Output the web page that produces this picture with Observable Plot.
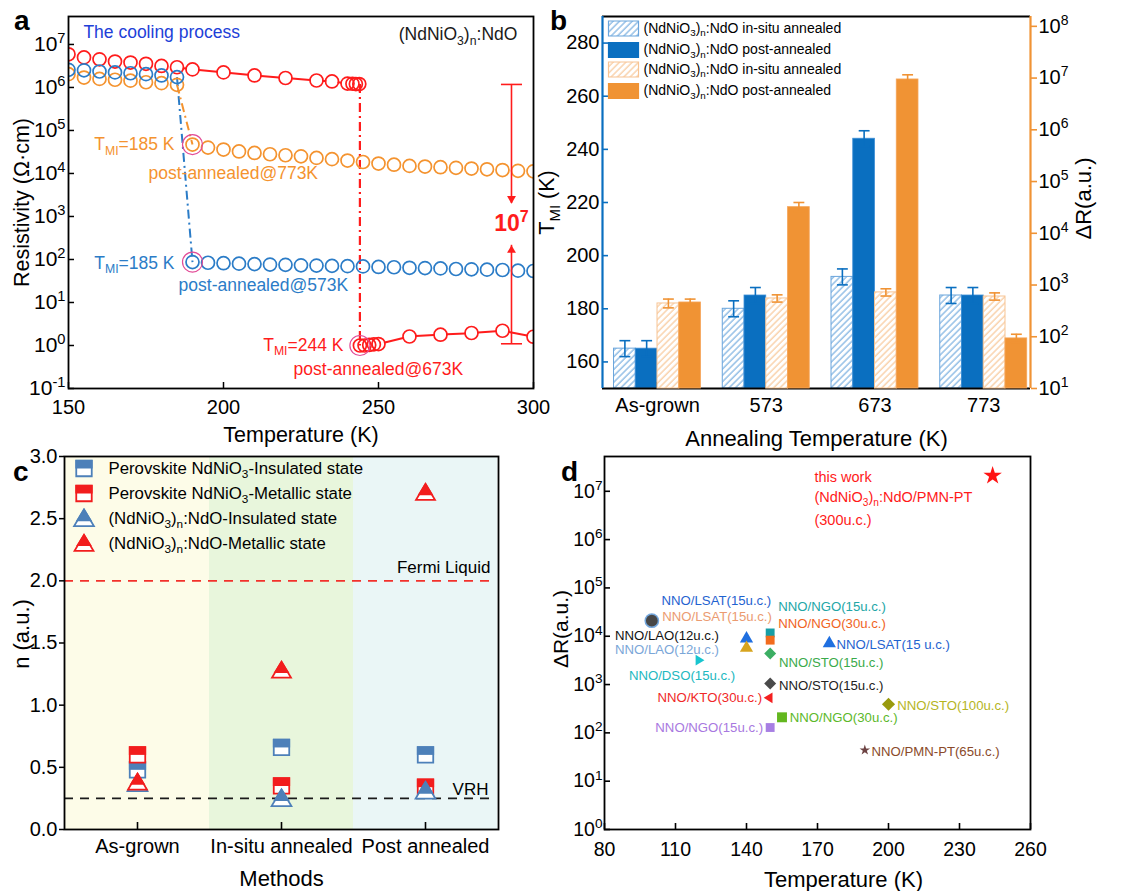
<!DOCTYPE html>
<html>
<head>
<meta charset="utf-8">
<title>NdNiO3 figure</title>
<script src="https://cdn.jsdelivr.net/npm/d3@7"></script>
<script src="https://cdn.jsdelivr.net/npm/@observablehq/plot@0.6"></script>
<style>
html,body{margin:0;padding:0;background:#fff;}
#fig{position:relative;width:1131px;height:891px;overflow:hidden;background:#fff;font-family:"Liberation Sans",Arial,sans-serif;}
#fig svg{position:absolute;}
</style>
</head>
<body>
<svg width="0" height="0" style="position:absolute;left:0;top:0">
  <defs>
    <pattern id="hatchBlue" patternUnits="userSpaceOnUse" width="4.5" height="4.5" patternTransform="rotate(45)">
      <rect width="4.5" height="4.5" fill="#ffffff"/>
      <line x1="1" y1="0" x2="1" y2="4.5" stroke="#79afe0" stroke-width="1.2"/>
    </pattern>
    <pattern id="hatchOrange" patternUnits="userSpaceOnUse" width="4.5" height="4.5" patternTransform="rotate(45)">
      <rect width="4.5" height="4.5" fill="#ffffff"/>
      <line x1="1" y1="0" x2="1" y2="4.5" stroke="#f8c899" stroke-width="1.2"/>
    </pattern>
  </defs>
</svg>
<div id="fig"></div>
<script>
// ===================== DATA =====================
// ---- Panel a: resistivity vs temperature (cooling) ----
const aTempIns = [150, 155, 160, 165, 170, 175, 180, 185];
const aBlue573Ins = [2.57e6, 2.5e6, 2.35e6, 2.24e6, 2.14e6, 2.04e6, 1.9e6, 1.74e6];
const aOrange773Ins = [2.04e6, 1.7e6, 1.58e6, 1.51e6, 1.44e6, 1.32e6, 1.26e6, 1.15e6];
const aTempMet = [190, 195, 200, 205, 210, 215, 220, 225, 230, 235, 240, 245, 250, 255, 260, 265, 270, 275, 280, 285, 290, 295, 300];
const aBlue573Met = [87, 84, 82, 80, 78, 76, 75, 73, 72, 71, 70, 69, 67, 66, 64, 63, 62, 60, 59, 58, 57, 55, 54];
const aOrange773Met = [4.7e4, 4.0e4, 3.6e4, 3.25e4, 3.0e4, 2.8e4, 2.65e4, 2.5e4, 2.3e4, 2.15e4, 2.0e4, 1.85e4, 1.7e4, 1.6e4, 1.5e4, 1.45e4, 1.4e4, 1.35e4, 1.3e4, 1.25e4, 1.2e4, 1.15e4, 1.12e4];
const aRed673InsTemp = [150, 155, 160, 165, 170, 175, 180, 185, 190, 200, 210, 220, 230, 235, 240, 241.6, 242.7, 243.8];
const aRed673Ins = [5.9e6, 5.0e6, 4.5e6, 4.0e6, 3.8e6, 3.55e6, 3.16e6, 2.95e6, 2.63e6, 2.24e6, 1.9e6, 1.66e6, 1.45e6, 1.38e6, 1.23e6, 1.22e6, 1.2e6, 1.2e6];
const aRed673MetTemp = [244, 245.5, 247, 248.5, 250, 260, 270, 280, 290, 300];
const aRed673Met = [1.0, 1.0, 1.03, 1.06, 1.08, 1.62, 1.78, 1.95, 2.2, 1.6];
const aXTicks = [150, 200, 250, 300];
const aYTicks = [1e-1, 1, 1e1, 1e2, 1e3, 1e4, 1e5, 1e6, 1e7];

// ---- Panel b: T_MI and ΔR vs annealing temperature ----
const bCats = ["As-grown", "573", "673", "773"];
const bTmiInsitu = [165, 180, 192, 185];
const bTmiInsituErr = [3, 3, 3, 3];
const bTmiPost = [165, 185, 244, 185];
const bTmiPostErr = [3, 3, 3, 3];
const bDRInsitu = [440, 550, 720, 600];
const bDRInsituErr = [0.085, 0.07, 0.07, 0.07];   // in decades
const bDRPost = [460, 3.2e4, 9.4e6, 93];
const bDRPostErr = [0.065, 0.09, 0.09, 0.08];      // in decades
const bTmiTicks = [160, 180, 200, 220, 240, 260, 280];
const bDRTicks = [1e1, 1e2, 1e3, 1e4, 1e5, 1e6, 1e7, 1e8];
const bLegendLabels = ["(NdNiO_{3})_{n}:NdO in-situ annealed", "(NdNiO_{3})_{n}:NdO post-annealed",
                       "(NdNiO_{3})_{n}:NdO in-situ annealed", "(NdNiO_{3})_{n}:NdO post-annealed"];

// ---- Panel c: exponent n vs method ----
const cMethods = ["As-grown", "In-situ annealed", "Post annealed"];
const cPerovskiteIns = [0.48, 0.66, 0.60];
const cPerovskiteMet = [0.60, 0.35, 0.34];
const cNdOIns = [0.37, 0.25, 0.31];
const cNdOMet = [0.38, 1.28, 2.71];
const cFermiLiquid = 2.0;
const cVRH = 0.25;
const cYTicks = [0, 0.5, 1.0, 1.5, 2.0, 2.5, 3.0];
const cLegendLabels = ["Perovskite NdNiO_{3}-Insulated state", "Perovskite NdNiO_{3}-Metallic state",
                       "(NdNiO_{3})_{n}:NdO-Insulated state", "(NdNiO_{3})_{n}:NdO-Metallic state"];

// ---- Panel d: ΔR vs T_MI comparison ----
const dNames = ["this work", "NNO/LAO(12u.c.)", "NNO/LAO(12u.c.)", "NNO/LSAT(15u.c.)", "NNO/LSAT(15u.c.)",
  "NNO/DSO(15u.c.)", "NNO/NGO(15u.c.)", "NNO/NGO(30u.c.)", "NNO/STO(15u.c.)", "NNO/STO(15u.c.)",
  "NNO/KTO(30u.c.)", "NNO/NGO(15u.c.)", "NNO/NGO(30u.c.)", "NNO/LSAT(15 u.c.)", "NNO/STO(100u.c.)", "NNO/PMN-PT(65u.c.)"];
const dTemp = [244, 100, 100, 140, 140, 120, 150, 150, 150, 150, 149.5, 150, 155, 175, 200, 190];
const dDeltaR = [2.1e7, 2.1e4, 2.1e4, 8.9e3, 5.7e3, 3.2e3, 1.17e4, 8.3e3, 4.4e3, 1.05e3, 530, 129, 210, 7.1e3, 390, 44];
const dXTicks = [80, 110, 140, 170, 200, 230, 260];
const dYTicks = [1, 1e1, 1e2, 1e3, 1e4, 1e5, 1e6, 1e7];
const dThisWorkLines = ["this work", "(NdNiO_{3})_{n}:NdO/PMN-PT", "(300u.c.)"];

// ===================== STYLES / LAYOUT =====================
const FONT = '"Liberation Sans", Arial, Helvetica, sans-serif';
const pow10 = d => `10^{${Math.round(Math.log10(d))}}`;
const baseStyle = () => ({background: "transparent", fontFamily: FONT, fontSize: "18px", color: "#000", overflow: "visible"});

// symbols
const rOf = size => Math.sqrt(size / Math.PI);
const symSquareOut = {draw(ctx, size) { const h = 0.9 * rOf(size); ctx.rect(-h, -h, 2 * h, 2 * h); }};
const symSquareTop = {draw(ctx, size) { const h = 0.9 * rOf(size) + 0.9; ctx.rect(-h, -h, 2 * h, h); }};
const symTriOut = {draw(ctx, size) { const r = rOf(size); ctx.moveTo(0, -r); ctx.lineTo(1.1 * r, 0.85 * r); ctx.lineTo(-1.1 * r, 0.85 * r); ctx.closePath(); }};
const symTriTop = {draw(ctx, size) { const r = rOf(size), y0 = 0.3 * r, hw = 1.1 * r * (y0 + r) / (1.85 * r) + 1.2;
  ctx.moveTo(0, -r - 1.6); ctx.lineTo(hw, y0); ctx.lineTo(-hw, y0); ctx.closePath(); }};
const symTriRight = {draw(ctx, size) { const r = rOf(size); ctx.moveTo(1.2 * r, 0); ctx.lineTo(-0.8 * r, -1.2 * r); ctx.lineTo(-0.8 * r, 1.2 * r); ctx.closePath(); }};
const symTriLeft = {draw(ctx, size) { const r = rOf(size); ctx.moveTo(-1.2 * r, 0); ctx.lineTo(0.8 * r, -1.2 * r); ctx.lineTo(0.8 * r, 1.2 * r); ctx.closePath(); }};
const symSwatch = {draw(ctx) { ctx.rect(-15, -7.5, 30, 15); }};

// rich text: _{sub} and ^{sup}
function richify(root) {
  const NS = "http://www.w3.org/2000/svg";
  root.querySelectorAll("text").forEach(t => {
    if (t.querySelector("tspan")) return;
    const s = t.textContent;
    if (!/[_^]\{/.test(s)) return;
    const fs = parseFloat(getComputedStyle(t).fontSize) || 16;
    t.textContent = "";
    let cur = 0;
    const add = (str, kind) => {
      if (!str) return;
      const sp = document.createElementNS(NS, "tspan");
      sp.textContent = str;
      const target = kind === "^" ? -0.4 * fs : kind === "_" ? 0.25 * fs : 0;
      if (target !== cur) sp.setAttribute("dy", (target - cur).toFixed(2));
      cur = target;
      if (kind) sp.style.fontSize = (0.7 * fs).toFixed(2) + "px";
      t.appendChild(sp);
    };
    const re = /([_^])\{([^}]*)\}/g;
    let last = 0, m;
    while ((m = re.exec(s)) !== null) { add(s.slice(last, m.index)); add(m[2], m[1]); last = re.lastIndex; }
    add(s.slice(last));
  });
}
const fig = document.getElementById("fig");
function mount(svg, left, top) {
  svg.style.position = "absolute"; svg.style.left = left + "px"; svg.style.top = top + "px";
  fig.appendChild(svg); richify(svg);
}
const pts = (xs, ys) => xs.map((x, i) => ({x, y: ys[i]}));
const last = arr => arr[arr.length - 1];

// ===================== PANEL A =====================
{
  const L = {left: 0, top: 0, w: 560, h: 445, ml: 68, mr: 27, mt: 16, mb: 57};
  const FW = L.w - L.ml - L.mr, FH = L.h - L.mt - L.mb;
  const blue = "#2b7cc7", orange = "#f4932f", red = "#ff1c1c", ring = "#e24b97";
  const blueIns = pts(aTempIns, aBlue573Ins), blueMet = pts(aTempMet, aBlue573Met);
  const orIns = pts(aTempIns, aOrange773Ins), orMet = pts(aTempMet, aOrange773Met);
  const redIns = pts(aRed673InsTemp, aRed673Ins), redMet = pts(aRed673MetTemp, aRed673Met);
  const segs = arr => arr.slice(1).map((d, i) => ({x1: arr[i].x, y1: arr[i].y, x2: d.x, y2: d.y})).filter(s => s.x2 - s.x1 >= 4);
  const redSegs = segs(redIns.filter(d => d.x >= 185)).concat(segs(redMet));
  const dashDot = "9,4,2,4";
  const trBlue = [{x1: last(blueIns).x, y1: last(blueIns).y, x2: blueMet[0].x, y2: blueMet[0].y}];
  const trOr = [{x1: last(orIns).x, y1: last(orIns).y, x2: orMet[0].x, y2: orMet[0].y}];
  const trRed = [{x1: redMet[0].x, y1: last(redIns).y, x2: redMet[0].x, y2: redMet[0].y}];
  const rings = [blueMet[0], orMet[0], redMet[0]];
  const notes = [
    {t: "The cooling process", x: 154.8, y: 10 ** 7.28, c: "#2140d8", a: "start"},
    {t: "(NdNiO_{3})_{n}:NdO", x: 294.8, y: 10 ** 7.23, c: "#1a1a1a", a: "end"},
    {t: "T_{MI}=185 K", x: 184.2, y: 10 ** 4.67, c: orange, a: "end"},
    {t: "post-annealed@773K", x: 175.8, y: 10 ** 4.0, c: orange, a: "start"},
    {t: "T_{MI}=185 K", x: 184.2, y: 10 ** 1.91, c: blue, a: "end"},
    {t: "post-annealed@573K", x: 185.5, y: 10 ** 1.40, c: blue, a: "start"},
    {t: "T_{MI}=244 K", x: 238.7, y: 10 ** 0.0, c: red, a: "end"},
    {t: "post-annealed@673K", x: 222.6, y: 10 ** -0.56, c: red, a: "start"}
  ];
  const gap = [{x: 292.9, top: 10 ** 6.07, downTip: 10 ** 3.3, label: 10 ** 2.84, upTip: 10 ** 2.33, bottom: 10 ** 0.04, cap: 3.4}];
  const marks = [
    Plot.ruleY(aYTicks, {y: d => d, insetRight: FW - 6, strokeWidth: 1.5}),
    Plot.ruleX(aXTicks, {x: d => d, insetTop: FH - 6, strokeWidth: 1.5}),
    Plot.axisY({ticks: aYTicks, tickFormat: pow10, tickSize: 0, tickPadding: 3, fontSize: 21, label: null}),
    Plot.axisX({ticks: aXTicks, tickFormat: d => String(d), tickSize: 0, tickPadding: 11, fontSize: 20, label: null}),
    Plot.text(["Resistivity (Ω·cm)"], {text: d => d, frameAnchor: "left", dx: -46, rotate: -90, fontSize: 21.5, textAnchor: "middle", lineAnchor: "middle"}),
    Plot.text(["Temperature (K)"], {text: d => d, frameAnchor: "bottom", dy: 47, fontSize: 21.5, textAnchor: "middle", lineAnchor: "middle"}),
    Plot.link(trBlue, {x1: "x1", y1: "y1", x2: "x2", y2: "y2", stroke: blue, strokeWidth: 2, strokeDasharray: dashDot}),
    Plot.link(trOr, {x1: "x1", y1: "y1", x2: "x2", y2: "y2", stroke: orange, strokeWidth: 2, strokeDasharray: dashDot}),
    Plot.link(trRed, {x1: "x1", y1: "y1", x2: "x2", y2: "y2", stroke: red, strokeWidth: 2.2, strokeDasharray: dashDot}),
    Plot.arrow(redSegs, {x1: "x1", y1: "y1", x2: "x2", y2: "y2", stroke: red, strokeWidth: 2, headLength: 0, insetStart: 6.5, insetEnd: 6.5}),
    Plot.dot(redIns, {x: "x", y: "y", r: 6.5, stroke: red, strokeWidth: 1.7, fill: "none", clip: true}),
    Plot.dot(redMet, {x: "x", y: "y", r: 6.5, stroke: red, strokeWidth: 1.7, fill: "none", clip: true}),
    Plot.dot(orIns, {x: "x", y: "y", r: 6.5, stroke: orange, strokeWidth: 1.7, fill: "none", clip: true}),
    Plot.dot(orMet, {x: "x", y: "y", r: 6.5, stroke: orange, strokeWidth: 1.7, fill: "none", clip: true}),
    Plot.dot(blueIns, {x: "x", y: "y", r: 6.5, stroke: blue, strokeWidth: 1.7, fill: "none", clip: true}),
    Plot.dot(blueMet, {x: "x", y: "y", r: 6.5, stroke: blue, strokeWidth: 1.7, fill: "none", clip: true}),
    Plot.dot(rings, {x: "x", y: "y", r: 10, stroke: ring, strokeWidth: 1.2, fill: "none"}),
    // gap annotation (10^7)
    Plot.ruleX(gap, {x: "x", y1: "top", y2: "downTip", stroke: red, strokeWidth: 1.6}),
    Plot.ruleX(gap, {x: "x", y1: "bottom", y2: "upTip", stroke: red, strokeWidth: 1.6}),
    Plot.link(gap, {x1: d => d.x - d.cap, x2: d => d.x + d.cap, y1: "top", y2: "top", stroke: red, strokeWidth: 1.6}),
    Plot.link(gap, {x1: d => d.x - d.cap, x2: d => d.x + d.cap, y1: "bottom", y2: "bottom", stroke: red, strokeWidth: 1.6}),
    Plot.dot(gap, {x: "x", y: "downTip", symbol: "triangle", r: 3.3, rotate: 180, dy: -5, fill: red}),
    Plot.dot(gap, {x: "x", y: "upTip", symbol: "triangle", r: 3.3, dy: 5, fill: red}),
    Plot.text(gap, {x: "x", y: "label", text: () => "10^{7}", fill: red, fontWeight: "bold", fontSize: 23}),
    ...notes.map(n => Plot.text([n], {x: "x", y: "y", text: "t", fill: n.c, textAnchor: n.a, fontSize: 17.5})),
    Plot.frame({strokeWidth: 1.8})
  ];
  const svg = Plot.plot({width: L.w, height: L.h, marginLeft: L.ml, marginRight: L.mr, marginTop: L.mt, marginBottom: L.mb,
    style: baseStyle(), x: {domain: [150, 300]}, y: {type: "log", domain: [0.1, 10 ** 7.65]}, marks});
  mount(svg, L.left, L.top);
}

// ===================== PANEL B =====================
{
  const L = {left: 530, top: 0, w: 601, h: 445, ml: 72, mr: 101, mt: 16, mb: 57};
  const FW = L.w - L.ml - L.mr, FH = L.h - L.mt - L.mb;
  const xDom = [-0.506, 3.43];
  const slots = [-0.3, -0.1, 0.1, 0.3], half = 0.1, cap = 0.05;
  const blueSolid = "#0a6fc0", blueLine = "#6aa5dc", orSolid = "#f09334", orLine = "#f7c493";
  const tmiDom = [150, 290];
  const rows = bCats.map((c, i) => ({i, tIns: bTmiInsitu[i], tInsE: bTmiInsituErr[i], tPost: bTmiPost[i], tPostE: bTmiPostErr[i],
    rIns: bDRInsitu[i], rInsE: bDRInsituErr[i], rPost: bDRPost[i], rPostE: bDRPostErr[i]}));
  const err = (xf, lo, hi, color) => [
    Plot.ruleX(rows, {x: xf, y1: lo, y2: hi, stroke: color, strokeWidth: 1.6}),
    Plot.link(rows, {x1: d => xf(d) - cap, x2: d => xf(d) + cap, y1: lo, y2: lo, stroke: color, strokeWidth: 1.6}),
    Plot.link(rows, {x1: d => xf(d) - cap, x2: d => xf(d) + cap, y1: hi, y2: hi, stroke: color, strokeWidth: 1.6})
  ];
  const sx = k => d => d.i + slots[k];
  const legendStyles = [
    {fill: "url(#hatchBlue)", stroke: blueLine}, {fill: blueSolid, stroke: blueSolid},
    {fill: "url(#hatchOrange)", stroke: orLine}, {fill: orSolid, stroke: orSolid}
  ];
  const legendDy = [12, 33.5, 53, 74.5];
  const marksL = [
    Plot.rect(rows, {x1: d => sx(0)(d) - half, x2: d => sx(0)(d) + half, y1: tmiDom[0], y2: "tIns", fill: "url(#hatchBlue)", stroke: blueLine, strokeWidth: 1}),
    Plot.rect(rows, {x1: d => sx(1)(d) - half, x2: d => sx(1)(d) + half, y1: tmiDom[0], y2: "tPost", fill: blueSolid, stroke: "#3d8fd6", strokeWidth: 0.8}),
    ...err(sx(0), d => d.tIns - d.tInsE, d => d.tIns + d.tInsE, blueSolid),
    ...err(sx(1), d => d.tPost - d.tPostE, d => d.tPost + d.tPostE, blueSolid),
    Plot.ruleY(bTmiTicks, {y: d => d, insetRight: FW - 6, stroke: blueSolid, strokeWidth: 1.6}),
    Plot.ruleX([0, 1, 2, 3], {x: d => d, insetTop: FH - 6, strokeWidth: 1.6}),
    Plot.axisY({ticks: bTmiTicks, tickSize: 0, tickPadding: 3, fontSize: 20, label: null}),
    Plot.axisX({ticks: [0, 1, 2, 3], tickFormat: i => bCats[i], tickSize: 0, tickPadding: 9, fontSize: 20, label: null}),
    Plot.ruleY(tmiDom, {y: d => d, strokeWidth: 1.8}),
    Plot.ruleX([xDom[0]], {x: d => d, stroke: blueSolid, strokeWidth: 2.2}),
    Plot.text(["T_{MI} (K)"], {text: d => d, frameAnchor: "left", dx: -55, rotate: -90, fontSize: 21.5, textAnchor: "middle", lineAnchor: "middle"}),
    Plot.text(["Annealing Temperature (K)"], {text: d => d, frameAnchor: "bottom", dy: 50, fontSize: 22, textAnchor: "middle", lineAnchor: "middle"}),
    ...bLegendLabels.flatMap((lab, k) => [
      Plot.dot([lab], {frameAnchor: "top-left", dx: 21, dy: legendDy[k], symbol: symSwatch, r: 5, fill: legendStyles[k].fill, stroke: legendStyles[k].stroke, strokeWidth: 1.2}),
      Plot.text([lab], {text: d => d, frameAnchor: "top-left", dx: 41, dy: legendDy[k], textAnchor: "start", lineAnchor: "middle", fontSize: 14})
    ])
  ];
  const svgL = Plot.plot({width: L.w, height: L.h, marginLeft: L.ml, marginRight: L.mr, marginTop: L.mt, marginBottom: L.mb,
    style: baseStyle(), x: {domain: xDom}, y: {domain: tmiDom}, marks: marksL});
  mount(svgL, L.left, L.top);

  const drDom = [10, 10 ** 8.19];
  const marksR = [
    Plot.rect(rows, {x1: d => sx(2)(d) - half, x2: d => sx(2)(d) + half, y1: drDom[0], y2: "rIns", fill: "url(#hatchOrange)", stroke: orLine, strokeWidth: 1}),
    Plot.rect(rows, {x1: d => sx(3)(d) - half, x2: d => sx(3)(d) + half, y1: drDom[0], y2: "rPost", fill: orSolid, stroke: "#f5a55a", strokeWidth: 0.8}),
    ...err(sx(2), d => d.rIns / 10 ** d.rInsE, d => d.rIns * 10 ** d.rInsE, orSolid),
    ...err(sx(3), d => d.rPost / 10 ** d.rPostE, d => d.rPost * 10 ** d.rPostE, orSolid),
    Plot.axisY({anchor: "right", ticks: bDRTicks, tickFormat: pow10, tickSize: 6, stroke: orSolid, strokeWidth: 1.6, tickPadding: 2, fontSize: 20, label: null}),
    Plot.ruleX([xDom[1]], {x: d => d, stroke: orSolid, strokeWidth: 2.2}),
    Plot.text(["ΔR(a.u.)"], {text: d => d, frameAnchor: "right", dx: 53, dy: -4, rotate: -90, fontSize: 22, textAnchor: "middle", lineAnchor: "middle"})
  ];
  const svgR = Plot.plot({width: L.w, height: L.h, marginLeft: L.ml, marginRight: L.mr, marginTop: L.mt, marginBottom: L.mb,
    style: baseStyle(), x: {domain: xDom, axis: null}, y: {type: "log", domain: drDom}, marks: marksR});
  mount(svgR, L.left, L.top);
}

// ===================== PANEL C =====================
{
  const L = {left: 0, top: 445, w: 560, h: 446, ml: 64, mr: 62, mt: 11, mb: 62};
  const FW = L.w - L.ml - L.mr, FH = L.h - L.mt - L.mb;
  const blue = "#4d80b9", red = "#f21d1d";
  const bg = ["#fdfce8", "#e8f6dc", "#eaf6f6"];
  const series = [
    {vals: cPerovskiteIns, color: blue, out: symSquareOut, top: symSquareTop, r: 8.6},
    {vals: cPerovskiteMet, color: red, out: symSquareOut, top: symSquareTop, r: 8.6},
    {vals: cNdOIns, color: blue, out: symTriOut, top: symTriTop, r: 9},
    {vals: cNdOMet, color: red, out: symTriOut, top: symTriTop, r: 8.6}
  ];
  const legendDy = [12, 37, 62, 87];
  const marks = [
    ...cMethods.map((m, i) => Plot.cell([m], {x: d => d, fill: bg[i]})),
    Plot.ruleY([cFermiLiquid], {y: d => d, stroke: "#f2312b", strokeWidth: 1.8, strokeDasharray: "9,7", insetRight: 8}),
    Plot.ruleY([cVRH], {y: d => d, stroke: "#1a1a1a", strokeWidth: 1.8, strokeDasharray: "9,7", insetRight: 8}),
    Plot.text([{y: cFermiLiquid, t: "Fermi Liquid"}], {y: "y", text: "t", frameAnchor: "right", dx: -8, dy: -13, textAnchor: "end", lineAnchor: "middle", fontSize: 17}),
    Plot.text([{y: cVRH, t: "VRH"}], {y: "y", text: "t", frameAnchor: "right", dx: -10, dy: -9, textAnchor: "end", lineAnchor: "middle", fontSize: 17}),
    ...series.flatMap(s => {
      const data = cMethods.map((m, i) => ({m, v: s.vals[i]}));
      return [
        Plot.dot(data, {x: "m", y: "v", symbol: s.out, r: s.r, fill: "white", stroke: s.color, strokeWidth: 1.8}),
        Plot.dot(data, {x: "m", y: "v", symbol: s.top, r: s.r, fill: s.color, stroke: "none"})
      ];
    }),
    ...cLegendLabels.flatMap((lab, k) => {
      const s = series[k], dy = legendDy[k];
      return [
        Plot.dot([lab], {frameAnchor: "top-left", dx: 19.5, dy, symbol: s.out, r: s.r, fill: "white", stroke: s.color, strokeWidth: 1.8}),
        Plot.dot([lab], {frameAnchor: "top-left", dx: 19.5, dy, symbol: s.top, r: s.r, fill: s.color, stroke: "none"}),
        Plot.text([lab], {text: d => d, frameAnchor: "top-left", dx: 44, dy, textAnchor: "start", lineAnchor: "middle", fontSize: 16.8})
      ];
    }),
    Plot.ruleX(cMethods, {x: d => d, insetTop: FH - 7, strokeWidth: 1.6}),
    Plot.axisY({ticks: cYTicks, tickFormat: d3.format(".1f"), tickSize: 5, strokeWidth: 1.5, tickPadding: 2, fontSize: 20, label: null}),
    Plot.axisX({tickSize: 0, tickPadding: 9, fontSize: 20, label: null}),
    Plot.text(["n (a.u.)"], {text: d => d, frameAnchor: "left", dx: -43, dy: -9, rotate: -90, fontSize: 22, textAnchor: "middle", lineAnchor: "middle"}),
    Plot.text(["Methods"], {text: d => d, frameAnchor: "bottom", dy: 49, fontSize: 22, textAnchor: "middle", lineAnchor: "middle"}),
    Plot.frame({strokeWidth: 1.8})
  ];
  const svg = Plot.plot({width: L.w, height: L.h, marginLeft: L.ml, marginRight: L.mr, marginTop: L.mt, marginBottom: L.mb,
    style: baseStyle(), x: {type: "band", domain: cMethods, padding: 0}, y: {domain: [0, 3]}, marks});
  mount(svg, L.left, L.top);
}

// ===================== PANEL D =====================
{
  const L = {left: 550, top: 445, w: 581, h: 446, ml: 54, mr: 101, mt: 11, mb: 62};
  const FW = L.w - L.ml - L.mr, FH = L.h - L.mt - L.mb;
  const markStyle = [
    {symbol: "star", r: 5.8, fill: "#ff1414"},
    {symbol: "circle", r: 7.4, fill: "#74a7dd"},
    {symbol: "circle", r: 5.9, fill: "#474747"},
    {symbol: "triangle", r: 4.9, fill: "#1f6fe0"},
    {symbol: "triangle", r: 4.9, fill: "#d7a41e"},
    {symbol: symTriRight, r: 4.4, fill: "#19c5cf"},
    {symbol: "square", r: 5.0, fill: "#179ea5"},
    {symbol: "square", r: 5.0, fill: "#f26b1d"},
    {symbol: "diamond2", r: 5.4, fill: "#3cae63"},
    {symbol: "diamond2", r: 5.4, fill: "#4a4a4a"},
    {symbol: symTriLeft, r: 4.4, fill: "#f42020"},
    {symbol: "square", r: 5.0, fill: "#a77fe3"},
    {symbol: "square", r: 5.6, fill: "#63b71f"},
    {symbol: "triangle", r: 4.9, fill: "#1f6fe0"},
    {symbol: "diamond2", r: 5.9, fill: "#999a0e"},
    {symbol: "star", r: 3.3, fill: "#6d4343"}
  ];
  const labelLayout = [
    null,
    {x: 84.4, y: 10 ** 3.71, a: "start", c: "#7aa6d8"},
    {x: 84.4, y: 10 ** 4.02, a: "start", c: "#111111"},
    {x: 104.1, y: 10 ** 4.73, a: "start", c: "#1f63d0"},
    {x: 104.4, y: 10 ** 4.40, a: "start", c: "#eb9b70"},
    {x: 90.3, y: 10 ** 3.18, a: "start", c: "#22b8c0"},
    {x: 153.4, y: 10 ** 4.60, a: "start", c: "#22a6a6"},
    {x: 153.4, y: 10 ** 4.25, a: "start", c: "#f0641e"},
    {x: 153.7, y: 10 ** 3.45, a: "start", c: "#3aaa4a"},
    {x: 153.7, y: 10 ** 2.98, a: "start", c: "#222222"},
    {x: 146.6, y: 10 ** 2.72, a: "end", c: "#f02828"},
    {x: 147.0, y: 10 ** 2.11, a: "end", c: "#a878e0"},
    {x: 158.3, y: 10 ** 2.31, a: "start", c: "#5cb82a"},
    {x: 178.0, y: 10 ** 3.83, a: "start", c: "#1f63d0"},
    {x: 203.7, y: 10 ** 2.57, a: "start", c: "#b5b51e"},
    {x: 192.8, y: 10 ** 1.60, a: "start", c: "#8a4a2a"}
  ];
  const thisWorkAt = {x: 168.7, ys: [10 ** 7.28, 10 ** 6.87, 10 ** 6.40]};
  const pointsD = dNames.map((n, i) => ({n, x: dTemp[i], y: dDeltaR[i]}));
  const marks = [
    Plot.ruleY(dYTicks, {y: d => d, insetRight: FW - 6, strokeWidth: 1.6}),
    Plot.ruleX(dXTicks, {x: d => d, insetTop: FH - 6, strokeWidth: 1.6}),
    Plot.axisY({ticks: dYTicks, tickFormat: pow10, tickSize: 0, tickPadding: 2, fontSize: 19.5, label: null}),
    Plot.axisX({ticks: dXTicks, tickFormat: d => String(d), tickSize: 0, tickPadding: 13, fontSize: 19.5, label: null}),
    Plot.text(["ΔR(a.u.)"], {text: d => d, frameAnchor: "left", dx: -43, dy: -14, rotate: -90, fontSize: 21, textAnchor: "middle", lineAnchor: "middle"}),
    Plot.text(["Temperature (K)"], {text: d => d, frameAnchor: "bottom", dx: 26, dy: 50, fontSize: 22, textAnchor: "middle", lineAnchor: "middle"}),
    ...pointsD.map((p, i) => Plot.dot([p], {x: "x", y: "y", symbol: markStyle[i].symbol, r: markStyle[i].r, fill: markStyle[i].fill})),
    ...pointsD.flatMap((p, i) => {
      const l = labelLayout[i];
      if (!l) return [];
      return [Plot.text([{x: l.x, y: l.y, t: p.n}], {x: "x", y: "y", text: "t", textAnchor: l.a, fill: l.c, fontSize: 13.2})];
    }),
    ...dThisWorkLines.map((t, k) => Plot.text([{x: thisWorkAt.x, y: thisWorkAt.ys[k], t}], {x: "x", y: "y", text: "t", textAnchor: "start", fill: "#ff1a1a", fontSize: 14.5})),
    Plot.frame({strokeWidth: 1.8})
  ];
  const svg = Plot.plot({width: L.w, height: L.h, marginLeft: L.ml, marginRight: L.mr, marginTop: L.mt, marginBottom: L.mb,
    style: baseStyle(), x: {domain: [80, 260]}, y: {type: "log", domain: [1, 10 ** 7.72]}, marks});
  mount(svg, L.left, L.top);
}

// ===================== PANEL LETTERS =====================
{
  const s = d3.create("svg").attr("width", 1131).attr("height", 891)
    .style("position", "absolute").style("left", "0px").style("top", "0px").style("pointer-events", "none");
  const letters = [{t: "a", x: 14, y: 30}, {t: "b", x: 550, y: 30}, {t: "c", x: 13, y: 481}, {t: "d", x: 561, y: 481}];
  s.selectAll("text").data(letters).join("text")
    .attr("x", d => d.x).attr("y", d => d.y).text(d => d.t)
    .attr("font-family", FONT).attr("font-weight", "bold").attr("font-size", 28);
  fig.appendChild(s.node());
}
</script>
</body>
</html>
